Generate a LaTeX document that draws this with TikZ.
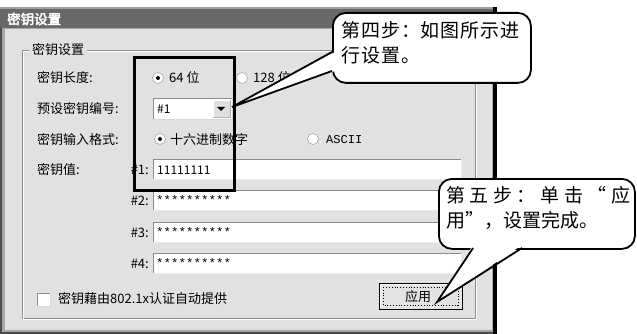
\documentclass[tikz,border=0pt]{standalone}
\usepackage{fontspec}
\setmainfont{Noto Sans CJK SC}
\newfontfamily\titlefont[FakeBold=3]{Noto Sans CJK SC}
\newfontfamily\callfont[LetterSpace=5]{Noto Sans CJK SC}
\newfontfamily\monofont{Liberation Mono}
\definecolor{body}{HTML}{E1E1E1}
\definecolor{titlebar}{HTML}{686868}
\definecolor{framec}{HTML}{4A4A4A}
\definecolor{edge}{HTML}{8C8C8C}
\begin{document}
\begin{tikzpicture}[x=1pt,y=-1pt,
  lbl/.style={font=\fontsize{13}{15}\selectfont, inner sep=0pt, anchor=west, text=black},
  lblr/.style={lbl, anchor=east},
  calltext/.style={font=\callfont\fontsize{19}{22}\selectfont, inner sep=0pt, anchor=west},
  bubble/.style={draw=black, line width=1.8pt, fill=white, rounded corners=13pt, rectangle, inner sep=0pt, anchor=north west},
  pointer/.style={draw=black, line width=1.8pt, line join=miter},
  radio/.style={circle, draw=edge, fill=white, minimum size=11pt, inner sep=0pt},
  dot/.style={circle, fill=black, minimum size=4pt, inner sep=0pt},
  starry/.style={font=\monofont\fontsize{12.5}{14}\selectfont, inner sep=0pt, anchor=west},
]
\useasboundingbox (0,0) rectangle (637,334);
\fill[white] (0,0) rectangle (637,334);
% window frame
\fill[framec] (0,7) rectangle (497,334);
\fill[black] (493,7) rectangle (497,334);
\fill[titlebar] (0,7) rectangle (493,28);
\fill[gray!75] (0,7) rectangle (493,9);
\fill[gray!70] (2,28) rectangle (493,332);
\fill[body] (5,29) rectangle (492,330);
\node[font=\titlefont\fontsize{13.5}{15}\selectfont, text=white, inner sep=0pt, anchor=west] (title) at (7,19) {密钥设置};
% group box (etched)
\draw[edge] (22,50) rectangle (475,318);
\draw[white] (23,51) rectangle (476,319);
\node[lbl, fill=body, inner xsep=3pt] (grp) at (29,50) {密钥设置};
% row 1: key length
\node[lbl] (len) at (37,78) {密钥长度:};
\node[radio] (r64) at (158,78) {};
\node[dot] (r64d) at (158,78) {};
\node[lbl] (t64) at (169,78) {64 位};
\node[radio] (r128) at (242,78) {};
\node[lbl] (t128) at (253,78) {128 位};
% row 2: preset key index
\node[lbl] (pre) at (37,109) {预设密钥编号:};
\fill[white] (153,98) rectangle (232,119);
\draw[edge] (153,119) -- (153,98) -- (232,98);
\draw[gray!30] (153,119) -- (232,119) -- (232,98);
\fill[gray!25] (213,100) rectangle (230,117);
\draw[white] (213,117) -- (213,100) -- (230,100);
\draw[gray!60] (213,117) -- (230,117) -- (230,100);
\fill[black] (217,107) -- (225,107) -- (221,111) -- cycle;
\node[lbl, font=\fontsize{12}{14}\selectfont] (combo) at (157,109) {\#1};
% row 3: input format
\node[lbl] (fmt) at (37,140) {密钥输入格式:};
\node[radio] (rhex) at (160,139) {};
\node[dot] (rhexd) at (160,139) {};
\node[lbl] (thex) at (170,140) {十六进制数字};
\node[radio] (rasc) at (313,139) {};
\node[lbl, font=\monofont\fontsize{12}{14}\selectfont] (tasc) at (326,140) {ASCII};
% key fields
\node[lbl] (val) at (37,170) {密钥值:};
\foreach \n/\yy in {1/169,2/200,3/232,4/263}{
  \fill[white] (153,\yy-10) rectangle (461,\yy+10);
  \draw[edge, line width=1.5pt] (153.5,\yy+10) -- (153.5,\yy-9.5) -- (461,\yy-9.5);
  \draw[gray!15] (154,\yy+10) -- (461,\yy+10) -- (461,\yy-10);
  \node[lblr] (k\n) at (149,\yy+1) {\#\n:};
}
\node[lbl, font=\fontsize{12}{14}\selectfont] (v1) at (157,170) {11111111};
\node[starry] (v2) at (156,200) {**********};
\node[starry] (v3) at (156,232) {**********};
\node[starry] (v4) at (156,263) {**********};
% checkbox
\fill[white] (37,293) rectangle (50,306);
\draw[edge] (37,306) -- (37,293) -- (50,293);
\draw[gray!30] (37,306) -- (50,306) -- (50,293);
\node[lbl] (chk) at (58,299) {密钥藉由802.1x认证自动提供};
% apply button
\draw[black, fill=gray!22, line width=1pt] (379,283) rectangle (462,309);
\draw[white] (380.5,307.5) -- (380.5,284.5) -- (460.5,284.5);
\draw[black, dotted, line width=0.8pt] (383,287) rectangle (458,305);
\node[lbl] (apply) at (405,296.5) {应用};
% highlight box
\draw[black, line width=3pt] (134,58) rectangle (234,190);
% callout 1
\node[bubble, minimum width=198pt, minimum height=70pt] (b1) at (332,12) {};
\coordinate (tip1) at (232,107);
\coordinate (b1u) at (332,52);
\coordinate (b1l) at (332,71);
\fill[white] (335,52) -- (tip1) -- (335,71) -- cycle;
\draw[pointer] (b1u) -- (tip1) -- (b1l);
\node[calltext] (s4a) at (341,30) {第四步：如图所示进};
\node[calltext] (s4b) at (341,55) {行设置。};
% callout 2
\node[bubble, minimum width=196pt, minimum height=70pt] (b2) at (438,178) {};
\coordinate (tip2) at (437,302);
\coordinate (b2l) at (473,248);
\coordinate (b2r) at (522,248);
\fill[white] (473,245) -- (tip2) -- (522,245) -- cycle;
\draw[pointer] (b2l) -- (tip2) -- (b2r);
\node[calltext, font=\fontsize{19}{22}\selectfont] (s5a) at (446,195) {\makebox[184pt][s]{第\hfil 五\hfil 步\hfil ：\hfil 单\hfil 击\hfil “\hfil 应}};
\node[calltext, font=\fontsize{19}{22}\selectfont] (s5b) at (446,220) {用”，设置完成。};
\end{tikzpicture}
\end{document}
